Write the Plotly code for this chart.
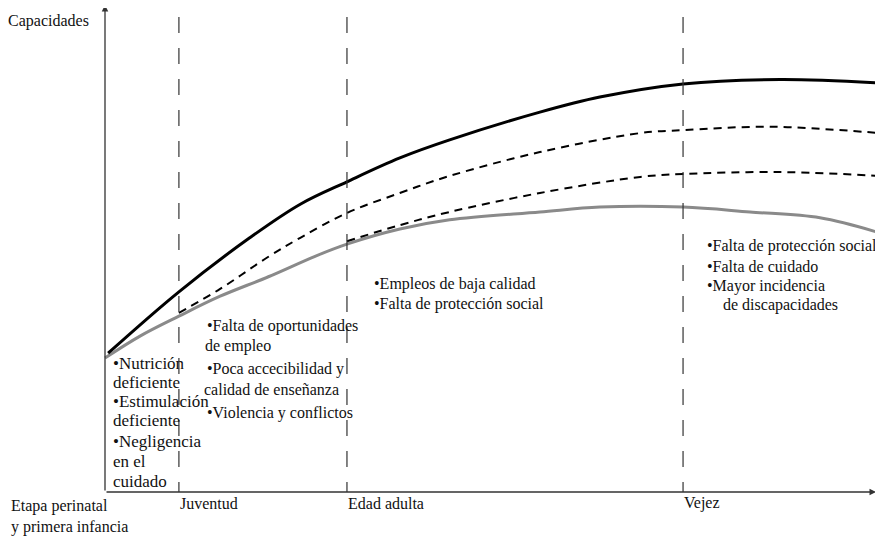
import plotly.graph_objects as go

# ---------------- data (x: life course position 0-100, y: capacities 0-100) ----------------
stage_x = [9.5, 31.1, 74.3]
stage_labels = ["Juventud", "Edad adulta", "Vejez"]

high_x = [0.4, 9.5, 18.6, 25.1, 31.1, 37.9, 44.3, 55.9, 63.6, 74.3, 86.8, 99.6]
high_y = [28.5, 41.1, 52.2, 59.1, 63.7, 68.6, 72.3, 78.0, 81.1, 83.8, 84.7, 84.0]

mid1_x = [9.5, 14.8, 20.8, 25.1, 31.1, 37.9, 44.3, 55.9, 68.8, 74.3, 85.5, 99.6]
mid1_y = [36.8, 41.7, 48.1, 52.2, 57.3, 61.4, 64.9, 69.8, 73.7, 74.3, 75.0, 73.7]

mid2_x = [31.1, 37.9, 44.3, 55.9, 68.8, 74.3, 86.8, 99.6]
mid2_y = [51.5, 54.8, 57.5, 61.4, 64.7, 65.3, 65.7, 64.9]

low_x = [0.0, 4.5, 9.5, 14.8, 21.0, 27.0, 31.1, 37.9, 44.3, 55.9, 63.6, 74.3, 82.9, 91.9, 99.6]
low_y = [27.5, 32.0, 36.1, 40.2, 44.2, 48.4, 50.9, 54.0, 55.9, 57.5, 58.5, 58.5, 57.5, 56.3, 53.2]

y_title = "Capacidades"
x_start_label = "Etapa perinatal<br>y primera infancia"

text_infancia = ["•Nutrición", "deficiente", "•Estimulación", "deficiente", "•Negligencia", "en el", "cuidado"]
text_juventud = ["•Falta de oportunidades", "de empleo", "•Poca accecibilidad y", "calidad de enseñanza", "•Violencia y conflictos"]
text_adulta = ["•Empleos de baja calidad", "•Falta de protección social"]
text_vejez = ["•Falta de protección social", "•Falta de cuidado", "•Mayor incidencia", "de discapacidades"]

# ---------------- layout helpers ----------------
OFF = 8                      # page body margin
W, H = 883 - OFF, 536 - OFF  # figure size
FONT = "Liberation Serif, Times New Roman, DejaVu Serif, serif"
XPX0, XSCALE = 105 - OFF, 7.78   # pixel of x=0 and pixels per unit
YPX0, YSCALE = 492 - OFF, 4.87   # pixel of y=0 and pixels per unit


def P(px, py):
    """window pixel -> paper coords"""
    return (px - OFF) / W, 1 - (py - OFF) / H


fig = go.Figure()

fig.add_trace(go.Scatter(x=low_x, y=low_y, mode="lines", line=dict(color="#8a8a8a", width=3, shape="spline"), hoverinfo="skip"))
fig.add_trace(go.Scatter(x=mid2_x, y=mid2_y, mode="lines", line=dict(color="#000", width=2, dash="8px,6px", shape="spline"), hoverinfo="skip"))
fig.add_trace(go.Scatter(x=mid1_x, y=mid1_y, mode="lines", line=dict(color="#000", width=2, dash="8px,6px", shape="spline"), hoverinfo="skip"))
fig.add_trace(go.Scatter(x=high_x, y=high_y, mode="lines", line=dict(color="#000", width=3, shape="spline"), hoverinfo="skip"))

shapes = []
for sx in stage_x:
    shapes.append(dict(type="line", xref="x", yref="paper", x0=sx, x1=sx,
                       y0=P(0, 17)[1], y1=P(0, 492)[1],
                       line=dict(color="#333", width=1.2, dash="16px,15px")))

annotations = []
# axes with arrows
annotations.append(dict(x=99.1, y=0, xref="x", yref="y", ax=0, ay=0, axref="x", ayref="y",
                        showarrow=True, arrowhead=2, arrowsize=1, arrowwidth=1.3, arrowcolor="#333", text="", standoff=0))
annotations.append(dict(x=0, y=100, xref="x", yref="y", ax=0, ay=0, axref="x", ayref="y",
                        showarrow=True, arrowhead=2, arrowsize=1, arrowwidth=1.3, arrowcolor="#333", text="", standoff=0))


def note(px, py, text, size=16):
    x, y = P(px, py)
    annotations.append(dict(x=x, y=y, xref="paper", yref="paper", text=text, showarrow=False,
                            xanchor="left", yanchor="middle", align="left",
                            font=dict(family=FONT, size=size, color="#111")))


note(6, 21, y_title)
note(9, 516, x_start_label)
for sx, lab in zip(stage_x, stage_labels):
    px = 105 + sx * XSCALE
    note(px - 1, 503, lab)

for t, px, py in zip(text_infancia, [111] * 7, [363, 382, 401, 420, 441, 461, 481]):
    note(px, py, t, size=17)
for t, px, py in zip(text_juventud, [205, 203, 205, 202, 205], [326, 346, 369, 389, 413]):
    note(px, py, t)
for t, px, py in zip(text_adulta, [372, 372], [284, 304]):
    note(px, py, t)
for t, px, py in zip(text_vejez, [705, 705, 705, 721], [246, 266, 286, 305]):
    note(px, py, t)

fig.update_layout(
    width=W, height=H,
    margin=dict(l=0, r=0, t=0, b=0),
    paper_bgcolor="white", plot_bgcolor="white",
    showlegend=False,
    font=dict(family=FONT),
    xaxis=dict(range=[-XPX0 / XSCALE, (W - XPX0) / XSCALE], visible=False, fixedrange=True),
    yaxis=dict(range=[(YPX0 - H) / YSCALE, YPX0 / YSCALE], visible=False, fixedrange=True),
    shapes=shapes,
    annotations=annotations,
)

fig.write_html("out.html")
